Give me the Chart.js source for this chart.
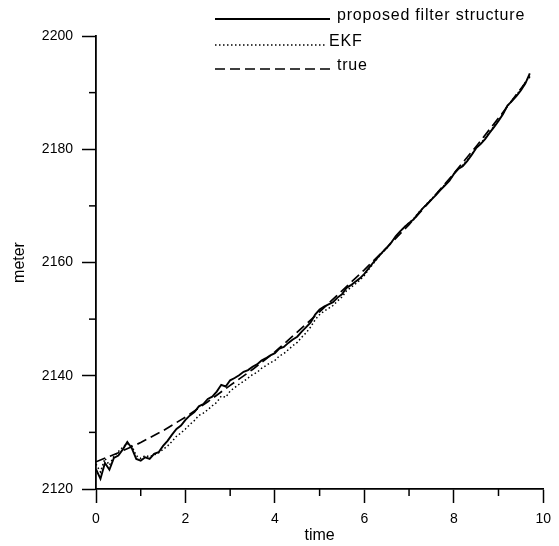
<!DOCTYPE html>
<html>
<head>
<meta charset="utf-8">
<script src="https://cdn.jsdelivr.net/npm/chart.js@4"></script>
<style>
  html, body { margin: 0; padding: 0; background: #fff; }
  #wrap { width: 559px; height: 546px; }
</style>
</head>
<body>
<div id="wrap"><canvas id="c" width="559" height="546"></canvas></div>
<script>
// time stamps for the two noisy estimates (0.1 steps)
const times = [
  0.0, 0.1, 0.2, 0.3, 0.4, 0.5, 0.6, 0.7, 0.8, 0.9,
  1.0, 1.1, 1.2, 1.3, 1.4, 1.5, 1.6, 1.7, 1.8, 1.9,
  2.0, 2.1, 2.2, 2.3, 2.4, 2.5, 2.6, 2.7, 2.8, 2.9,
  3.0, 3.1, 3.2, 3.3, 3.4, 3.5, 3.6, 3.7, 3.8, 3.9,
  4.0, 4.1, 4.2, 4.3, 4.4, 4.5, 4.6, 4.7, 4.8, 4.9,
  5.0, 5.1, 5.2, 5.3, 5.4, 5.5, 5.6, 5.7, 5.8, 5.9,
  6.0, 6.1, 6.2, 6.3, 6.4, 6.5, 6.6, 6.7, 6.8, 6.9,
  7.0, 7.1, 7.2, 7.3, 7.4, 7.5, 7.6, 7.7, 7.8, 7.9,
  8.0, 8.1, 8.2, 8.3, 8.4, 8.5, 8.6, 8.7, 8.8, 8.9,
  9.0, 9.1, 9.2, 9.3, 9.4, 9.5, 9.6, 9.7
];

const proposed = [
  2123.5, 2121.8, 2124.6, 2123.4, 2125.5, 2125.9, 2127.0, 2128.3, 2127.2, 2125.3,
  2125.0, 2125.6, 2125.3, 2126.2, 2126.5, 2127.6, 2128.5, 2129.6, 2130.6, 2131.2,
  2132.2, 2133.0, 2133.6, 2134.6, 2135.0, 2135.9, 2136.3, 2137.2, 2138.4, 2138.1,
  2139.2, 2139.6, 2140.1, 2140.7, 2141.0, 2141.6, 2142.0, 2142.7, 2143.1, 2143.6,
  2144.0, 2144.8, 2145.1, 2145.8, 2146.4, 2146.9, 2147.8, 2148.6, 2149.4, 2150.8,
  2151.7, 2152.2, 2152.6, 2153.0, 2153.8, 2154.4, 2155.5, 2156.0, 2156.6, 2157.2,
  2158.0, 2159.0, 2160.0, 2160.9, 2161.8, 2162.6, 2163.5, 2164.6, 2165.5, 2166.3,
  2167.0, 2167.6, 2168.6, 2169.5, 2170.3, 2171.1, 2171.9, 2172.8, 2173.6, 2174.4,
  2175.6, 2176.5, 2177.0, 2177.9, 2179.0, 2180.2, 2180.9, 2181.8, 2182.9, 2183.9,
  2185.0, 2186.2, 2187.7, 2188.5, 2189.4, 2190.4, 2191.6, 2193.4
];

const ekf = [
  2124.4, 2123.0, 2125.4, 2124.2, 2125.8, 2126.6, 2127.4, 2128.0, 2127.6, 2125.9,
  2125.4, 2125.9, 2125.7, 2126.0, 2126.4, 2127.0, 2127.6, 2128.4, 2129.3, 2129.9,
  2130.6, 2131.4, 2132.1, 2133.0, 2133.4, 2134.0, 2134.7, 2135.3, 2136.4, 2136.2,
  2137.3, 2137.9, 2138.5, 2139.0, 2139.6, 2140.2, 2140.6, 2141.3, 2141.8, 2142.3,
  2142.7, 2143.5, 2143.9, 2144.6, 2145.3, 2145.9, 2146.8, 2147.6, 2148.6, 2149.9,
  2150.8, 2151.4, 2151.9, 2152.4, 2153.2, 2153.9, 2155.0, 2155.6, 2156.2, 2156.9,
  2157.7, 2158.8, 2159.8, 2160.8, 2161.7, 2162.5, 2163.5, 2164.5, 2165.4, 2166.3,
  2167.0, 2167.7, 2168.7, 2169.5, 2170.4, 2171.2, 2172.0, 2172.9, 2173.7, 2174.5,
  2175.7, 2176.6, 2177.2, 2178.1, 2179.1, 2180.3, 2181.0, 2182.0, 2183.0, 2184.1,
  2185.1, 2186.3, 2187.6, 2188.6, 2189.6, 2190.6, 2191.8, 2193.0
];

// true trajectory, smooth, coarser sampling
const trueTimes = [0, 0.5, 1, 1.5, 2, 2.5, 3, 3.5, 4, 4.5, 5, 5.5, 6, 6.5, 7, 7.5, 8, 8.5, 9, 9.5, 9.7];
const trueValues = [
  2124.8, 2126.4, 2128.2, 2130.3, 2132.7, 2135.4, 2138.3, 2141.1, 2144.2, 2147.7,
  2151.3, 2155.0, 2158.7, 2162.6, 2166.7, 2171.1, 2175.7, 2180.5, 2185.5, 2190.7, 2192.8
];

const seriesNames = ["proposed filter structure", "EKF", "true"];
const xTickLabels = [0, 2, 4, 6, 8, 10];
const yTickLabels = [2120, 2140, 2160, 2180, 2200];

function pairs(xs, ys) {
  return xs.map((x, i) => ({ x: x, y: ys[i] }));
}

// minor ticks (unlabelled) are drawn shorter than the library's major ones
const minorTicks = {
  id: "minorTicks",
  afterDraw(chart) {
    const ctx = chart.ctx;
    ctx.save();
    ctx.strokeStyle = "#000";
    ctx.lineWidth = 1.5;
    const xs = chart.scales.x, ys = chart.scales.y;
    xs.ticks.forEach((t) => {
      if (xTickLabels.includes(t.value)) return;
      const px = xs.getPixelForValue(t.value);
      ctx.beginPath();
      ctx.moveTo(px, xs.top);
      ctx.lineTo(px, xs.top + 7);
      ctx.stroke();
    });
    ys.ticks.forEach((t) => {
      if (yTickLabels.includes(t.value)) return;
      const py = ys.getPixelForValue(t.value);
      ctx.beginPath();
      ctx.moveTo(ys.right, py);
      ctx.lineTo(ys.right - 7, py);
      ctx.stroke();
    });
    ctx.restore();
  }
};

// legend in the style of the figure: long line sample, text to the right
const lineLegend = {
  id: "lineLegend",
  afterDraw(chart) {
    const ctx = chart.ctx;
    const rows = [20, 46, 70];
    ctx.save();
    ctx.font = "16px 'Liberation Sans', Arial, sans-serif";
    ctx.letterSpacing = "0.8px";
    ctx.fillStyle = "#000";
    ctx.textBaseline = "alphabetic";
    chart.data.datasets.forEach((ds, i) => {
      const y = rows[i];
      ctx.strokeStyle = "#000";
      ctx.lineWidth = ds.borderWidth;
      ctx.setLineDash(ds.borderDash || []);
      ctx.beginPath();
      ctx.moveTo(215, y - 1);
      ctx.lineTo(i === 1 ? 325 : 330, y - 1);
      ctx.stroke();
      ctx.fillText(ds.label, i === 1 ? 329 : 337, y);
    });
    ctx.restore();
  }
};

const font = "'Liberation Sans', Arial, sans-serif";

new Chart(document.getElementById("c"), {
  type: "line",
  data: {
    datasets: [
      {
        label: seriesNames[0],
        data: pairs(times, proposed),
        borderColor: "#000",
        borderWidth: 1.9,
        pointRadius: 0,
        tension: 0,
        order: 1
      },
      {
        label: seriesNames[1],
        data: pairs(times, ekf),
        borderColor: "#000",
        borderWidth: 1.5,
        borderDash: [1.5, 2.5],
        pointRadius: 0,
        tension: 0,
        order: 2
      },
      {
        label: seriesNames[2],
        data: pairs(trueTimes, trueValues),
        borderColor: "#000",
        borderWidth: 1.7,
        borderDash: [10, 5],
        pointRadius: 0,
        tension: 0,
        order: 3
      }
    ]
  },
  options: {
    responsive: false,
    animation: false,
    events: [],
    layout: { padding: { left: 0, top: 36, right: 8, bottom: 0 } },
    plugins: {
      legend: { display: false },
      tooltip: { enabled: false }
    },
    scales: {
      x: {
        type: "linear",
        min: 0,
        max: 10,
        afterFit: (s) => { s.height = 57; },
        border: { display: true, color: "#000", width: 1.8 },
        grid: {
          drawOnChartArea: false,
          tickLength: 14,
          tickWidth: 1.5,
          tickColor: (c) => (c.tick && xTickLabels.includes(c.tick.value) ? "#000" : "rgba(0,0,0,0)")
        },
        ticks: {
          stepSize: 1,
          maxRotation: 0,
          autoSkip: false,
          padding: 8,
          color: "#000",
          font: { family: font, size: 14 },
          callback: (v) => (xTickLabels.includes(v) ? String(v) : "")
        },
        title: {
          display: true,
          text: "time",
          color: "#000",
          font: { family: font, size: 16 },
          padding: { top: 0, bottom: 1 }
        }
      },
      y: {
        min: 2120,
        max: 2200,
        afterFit: (s) => { s.width = 96; },
        border: { display: true, color: "#000", width: 1.8 },
        grid: {
          drawOnChartArea: false,
          tickLength: 14,
          tickWidth: 1.5,
          tickColor: (c) => (c.tick && yTickLabels.includes(c.tick.value) ? "#000" : "rgba(0,0,0,0)")
        },
        ticks: {
          stepSize: 10,
          autoSkip: false,
          padding: 9,
          color: "#000",
          font: { family: font, size: 14 },
          callback: (v) => (yTickLabels.includes(v) ? String(v) : "")
        },
        title: {
          display: true,
          text: "meter",
          color: "#000",
          font: { family: font, size: 16 },
          padding: { top: 10, bottom: 0 }
        }
      }
    }
  },
  plugins: [minorTicks, lineLegend]
});
</script>
</body>
</html>
